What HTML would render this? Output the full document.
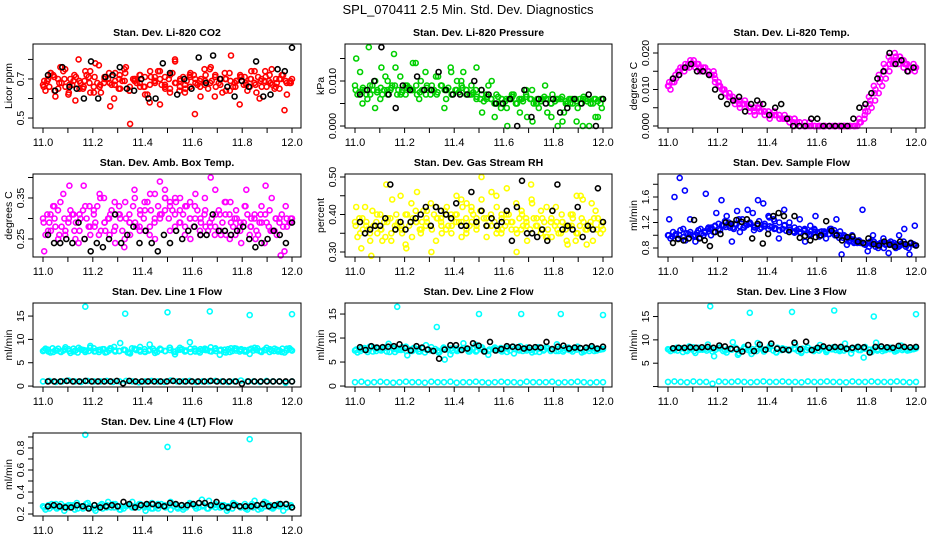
<!DOCTYPE html>
<html><head><meta charset="utf-8"><style>
html,body{margin:0;padding:0;background:#fff;}
svg{display:block;font-family:"Liberation Sans",sans-serif;}
</style></head><body>
<svg id="chart" width="936" height="540" viewBox="0 0 936 540">
<rect width="936" height="540" fill="#fff"/>
<text x="468" y="14" text-anchor="middle" font-size="13">SPL_070411  2.5 Min. Std. Dev. Diagnostics</text>
</svg>
<script>
// ---------- DATA ----------
const xTicks = [11.0,11.1,11.2,11.3,11.4,11.5,11.6,11.7,11.8,11.9,12.0];
const xTickLabels = ["11.0","","11.2","","11.4","","11.6","","11.8","","12.0"];

const co2A = [0.67,0.70,0.72,0.65,0.74,0.62,0.69,0.80,0.66,0.71,0.63,0.77,0.68,0.73,0.60,0.70,0.75,0.64,0.69,0.72,0.66,0.58,0.71,0.74,0.67,0.63,0.79,0.70,0.65,0.73,0.68,0.61,0.72,0.76,0.66,0.70,0.64,0.82,0.69,0.71,0.67,0.74,0.63,0.70,0.66,0.75,0.68,0.72,0.62,0.70];
const co2B = [0.64,0.73,0.61,0.76,0.66,0.70,0.59,0.68,0.74,0.63,0.78,0.67,0.71,0.56,0.69,0.65,0.73,0.47,0.70,0.66,0.62,0.74,0.68,0.57,0.71,0.65,0.80,0.66,0.63,0.72,0.52,0.69,0.67,0.75,0.61,0.70,0.73,0.64,0.68,0.57,0.71,0.66,0.74,0.60,0.69,0.72,0.65,0.70,0.54,0.68];
const co2C = [0.69,0.66,0.71,0.68,0.70,0.67,0.72,0.65,0.69,0.68,0.71,0.66,0.70,0.68,0.67,0.72,0.69,0.66,0.70,0.68,0.71,0.67,0.69,0.70,0.66,0.72,0.68,0.69,0.67,0.71,0.70,0.66,0.69,0.68,0.72,0.67,0.70,0.69,0.66,0.71,0.68,0.70,0.67,0.69,0.71,0.68,0.66,0.70,0.69,0.68];
const co2D = [0.66,0.69,0.73,0.64,0.70,0.68,0.75,0.63,0.67,0.71,0.69,0.65,0.72,0.74,0.66,0.68,0.63,0.71,0.70,0.67,0.73,0.65,0.69,0.76,0.64,0.70,0.68,0.72,0.66,0.62,0.71,0.69,0.74,0.67,0.65,0.70,0.73,0.68,0.64,0.71,0.69,0.66,0.72,0.67,0.70,0.75,0.65,0.69,0.71,0.68,0.63,0.70,0.73,0.66,0.69,0.72,0.67,0.64,0.70,0.68,0.71,0.66,0.74,0.69,0.67,0.70,0.65,0.72,0.68,0.69];
const co2K = [0.72,0.64,0.76,0.66,0.65,0.60,0.79,0.60,0.71,0.72,0.76,0.65,0.64,0.70,0.60,0.60,0.78,0.73,0.62,0.70,0.65,0.81,0.68,0.82,0.70,0.66,0.61,0.69,0.66,0.79,0.61,0.62,0.75,0.74,0.86];

const presA = [0.009,0.012,0.008,0.007,0.010,0.006,0.011,0.008,0.013,0.007,0.009,0.008,0.014,0.010,0.007,0.008,0.011,0.009,0.006,0.012,0.008,0.010,0.007,0.009,0.013,0.008,0.007,0.010,0.005,0.006,0.004,0.007,0.005,0.006,0.002,0.008,0.005,0.006,0.003,0.007,0.006,0.001,0.005,0.006,0.004,0.000,0.006,0.005,0.002,0.006];
const presB = [0.007,0.008,0.006,0.009,0.008,0.007,0.008,0.009,0.007,0.008,0.009,0.008,0.007,0.008,0.009,0.008,0.007,0.009,0.008,0.007,0.008,0.009,0.008,0.007,0.006,0.007,0.006,0.006,0.007,0.005,0.006,0.006,0.005,0.006,0.007,0.006,0.005,0.006,0.006,0.005,0.006,0.006,0.005,0.006,0.006,0.005,0.006,0.005,0.006,0.005];
const presC = [0.015,0.005,0.0175,0.004,0.013,0.010,0.016,0.011,0.0085,0.014,0.006,0.012,0.009,0.011,0.004,0.013,0.010,0.012,0.007,0.008,0.003,0.009,0.002,0.004,0.000,0.007,0.003,0.008,0.001,0.004,0.009,0.002,0.000,0.003,0.005,0.001,0.006,0.000,0.002,0.004];
const presD = [0.008,0.0075,0.0085,0.007,0.009,0.008,0.0075,0.0085,0.008,0.007,0.0085,0.009,0.008,0.0075,0.007,0.0085,0.008,0.009,0.0075,0.008,0.0085,0.007,0.008,0.0075,0.009,0.008,0.0085,0.007,0.008,0.0075,0.0085,0.008,0.007,0.0075,0.0065,0.006,0.0055,0.0065,0.006,0.005,0.0065,0.006,0.0055,0.006,0.0065,0.005,0.006,0.0055,0.0065,0.006,0.005,0.006,0.0055,0.0065,0.006,0.005,0.0055,0.006,0.0065,0.0055,0.006,0.005,0.0055,0.006,0.0065,0.0055,0.005,0.006,0.0055,0.006];
const presK = [0.007,0.008,0.010,0.0175,0.007,0.004,0.009,0.008,0.011,0.008,0.008,0.012,0.008,0.007,0.007,0.007,0.010,0.008,0.007,0.005,0.005,0.006,0.000,0.008,0.002,0.006,0.005,0.006,0.003,0.004,0.006,0.005,0.007,0.000,0.006];

const tempA = [0.011,0.013,0.015,0.016,0.017,0.017,0.017,0.016,0.015,0.015,0.012,0.010,0.008,0.007,0.007,0.006,0.005,0.004,0.005,0.004,0.003,0.004,0.003,0.002,0.002,0.002,0.001,0.001,0.001,0.000,0.000,0.000,0.000,0.000,0.000,0.000,0.000,0.000,0.001,0.004,0.007,0.010,0.013,0.016,0.018,0.019,0.018,0.017,0.016,0.016];
const tempB = [0.010,0.014,0.016,0.017,0.018,0.016,0.015,0.016,0.014,0.013,0.011,0.009,0.008,0.006,0.005,0.007,0.004,0.003,0.006,0.003,0.002,0.003,0.002,0.003,0.001,0.002,0.000,0.000,0.001,0.000,0.000,0.000,0.000,0.000,0.000,0.000,0.000,0.000,0.002,0.005,0.008,0.011,0.014,0.017,0.019,0.018,0.017,0.016,0.015,0.017];
const tempC = [0.012,0.012,0.014,0.015,0.016,0.017,0.016,0.015,0.014,0.014,0.011,0.010,0.009,0.007,0.006,0.006,0.005,0.005,0.004,0.004,0.003,0.003,0.002,0.002,0.001,0.000,0.001,0.000,0.000,0.000,0.000,0.000,0.000,0.000,0.000,0.000,0.000,0.000,0.001,0.003,0.006,0.009,0.012,0.015,0.017,0.020,0.019,0.017,0.016,0.015];
const tempD = [0.011,0.012,0.013,0.015,0.016,0.016,0.017,0.018,0.017,0.016,0.015,0.015,0.014,0.012,0.011,0.010,0.009,0.008,0.008,0.007,0.007,0.006,0.006,0.005,0.005,0.005,0.004,0.004,0.004,0.003,0.003,0.003,0.002,0.002,0.002,0.001,0.001,0.000,0.000,0.000,0.000,0.000,0.000,0.000,0.000,0.000,0.000,0.000,0.000,0.000,0.000,0.000,0.000,0.000,0.001,0.002,0.004,0.005,0.007,0.009,0.011,0.013,0.015,0.017,0.018,0.019,0.018,0.017,0.016,0.016];
const tempK = [0.013,0.014,0.016,0.017,0.015,0.015,0.014,0.010,0.008,0.006,0.007,0.008,0.004,0.006,0.007,0.006,0.003,0.005,0.006,0.002,0.000,0.000,0.000,0.002,0.002,0.000,0.000,0.000,0.000,0.000,0.002,0.005,0.006,0.009,0.013,0.015,0.020,0.017,0.018,0.015,0.016];

const ambA = [0.30,0.27,0.33,0.25,0.36,0.29,0.31,0.24,0.38,0.28,0.32,0.26,0.35,0.30,0.27,0.33,0.23,0.31,0.37,0.28,0.34,0.26,0.30,0.39,0.32,0.27,0.35,0.29,0.33,0.25,0.36,0.30,0.28,0.40,0.31,0.26,0.34,0.29,0.32,0.24,0.37,0.30,0.27,0.33,0.29,0.35,0.26,0.31,0.28,0.30];
const ambB = [0.26,0.31,0.28,0.34,0.27,0.32,0.25,0.30,0.33,0.26,0.29,0.35,0.27,0.31,0.24,0.30,0.34,0.26,0.29,0.32,0.27,0.36,0.25,0.31,0.35,0.34,0.28,0.32,0.26,0.30,0.33,0.27,0.35,0.29,0.26,0.31,0.34,0.25,0.30,0.28,0.33,0.26,0.31,0.29,0.24,0.32,0.27,0.30,0.22,0.29];
const ambC = [0.22,0.29,0.33,0.26,0.30,0.38,0.27,0.31,0.25,0.33,0.28,0.36,0.29,0.26,0.34,0.31,0.25,0.29,0.35,0.27,0.32,0.28,0.36,0.30,0.37,0.33,0.31,0.35,0.28,0.34,0.30,0.26,0.32,0.28,0.37,0.27,0.31,0.34,0.26,0.29,0.33,0.28,0.25,0.31,0.38,0.27,0.30,0.21,0.33,0.30];
const ambD = [0.29,0.31,0.27,0.30,0.32,0.28,0.26,0.30,0.31,0.29,0.27,0.32,0.30,0.28,0.31,0.33,0.27,0.29,0.30,0.32,0.28,0.31,0.27,0.30,0.29,0.33,0.28,0.31,0.30,0.34,0.32,0.29,0.33,0.31,0.35,0.30,0.32,0.34,0.29,0.31,0.33,0.30,0.28,0.32,0.29,0.31,0.27,0.30,0.28,0.32,0.29,0.26,0.31,0.28,0.30,0.27,0.29,0.31,0.28,0.30,0.26,0.29,0.31,0.28,0.27,0.30,0.29,0.28,0.30,0.29];
const ambK = [0.26,0.24,0.24,0.25,0.24,0.29,0.25,0.22,0.24,0.23,0.25,0.31,0.24,0.26,0.28,0.24,0.27,0.24,0.22,0.26,0.24,0.27,0.25,0.27,0.28,0.26,0.26,0.31,0.27,0.27,0.26,0.27,0.28,0.25,0.23,0.24,0.25,0.27,0.26,0.24,0.29];

const rhA = [0.38,0.35,0.42,0.33,0.37,0.40,0.34,0.39,0.36,0.45,0.32,0.38,0.41,0.35,0.37,0.43,0.33,0.39,0.36,0.40,0.38,0.44,0.35,0.41,0.37,0.50,0.34,0.39,0.42,0.36,0.47,0.38,0.35,0.40,0.33,0.43,0.37,0.39,0.34,0.41,0.36,0.38,0.32,0.40,0.35,0.44,0.37,0.33,0.39,0.36];
const rhB = [0.34,0.39,0.36,0.41,0.35,0.33,0.38,0.44,0.37,0.35,0.40,0.34,0.46,0.38,0.41,0.36,0.39,0.35,0.42,0.37,0.40,0.34,0.43,0.38,0.36,0.41,0.39,0.37,0.45,0.35,0.40,0.38,0.43,0.36,0.39,0.48,0.37,0.41,0.34,0.38,0.42,0.35,0.37,0.40,0.33,0.45,0.36,0.38,0.41,0.35];
const rhC = [0.42,0.31,0.37,0.29,0.38,0.36,0.48,0.33,0.40,0.37,0.31,0.43,0.38,0.36,0.39,0.30,0.42,0.37,0.40,0.35,0.45,0.38,0.36,0.42,0.39,0.44,0.37,0.46,0.35,0.40,0.38,0.36,0.30,0.41,0.37,0.44,0.39,0.36,0.42,0.34,0.38,0.40,0.33,0.37,0.45,0.39,0.32,0.43,0.36,0.38];
const rhD = [0.37,0.39,0.36,0.38,0.35,0.37,0.40,0.36,0.38,0.39,0.35,0.37,0.38,0.36,0.40,0.37,0.39,0.38,0.36,0.41,0.38,0.37,0.40,0.39,0.38,0.41,0.37,0.39,0.40,0.38,0.42,0.39,0.37,0.40,0.38,0.41,0.39,0.37,0.40,0.38,0.36,0.39,0.37,0.40,0.38,0.36,0.39,0.37,0.38,0.36,0.39,0.37,0.35,0.38,0.36,0.39,0.37,0.35,0.38,0.36,0.37,0.39,0.35,0.37,0.38,0.36,0.37,0.39,0.36,0.37];
const rhK = [0.38,0.35,0.36,0.37,0.37,0.39,0.48,0.36,0.38,0.36,0.38,0.39,0.40,0.42,0.37,0.42,0.41,0.40,0.39,0.43,0.37,0.37,0.46,0.38,0.41,0.37,0.39,0.37,0.38,0.41,0.33,0.42,0.49,0.35,0.35,0.34,0.36,0.33,0.41,0.48,0.36,0.37,0.36,0.42,0.34,0.37,0.36,0.47,0.38];

const flowA = [1.00,1.05,0.95,1.10,1.02,0.98,1.08,1.00,1.12,1.05,1.18,1.15,1.20,1.10,1.25,1.12,1.18,1.08,1.22,1.15,1.28,1.10,1.20,1.15,1.08,1.12,1.05,1.10,1.00,1.08,1.05,1.02,1.10,1.00,1.06,0.98,0.95,0.92,0.88,0.85,0.90,0.82,0.88,0.85,0.90,0.80,0.86,0.82,0.88,0.84];
const flowB = [0.95,1.00,1.08,0.92,1.05,1.00,0.96,1.04,1.10,1.15,1.08,1.22,1.12,1.18,1.05,1.15,1.20,1.12,1.10,1.18,1.14,1.22,1.08,1.16,1.12,1.04,1.10,1.08,1.02,1.10,0.98,1.06,1.02,1.08,0.96,1.00,0.90,0.88,0.92,0.86,0.82,0.90,0.86,0.80,0.88,0.84,0.82,0.90,0.80,0.86];
const flowC = [1.25,1.60,1.90,1.70,1.25,0.90,1.10,1.65,1.00,1.35,1.55,1.30,0.90,1.38,1.25,1.40,1.35,1.55,1.50,1.30,1.25,0.95,1.40,1.20,1.05,1.25,0.90,1.15,1.30,1.00,0.95,1.10,1.25,0.70,0.85,1.00,0.90,1.40,0.75,1.00,0.80,0.95,0.72,0.88,1.00,1.10,0.70,1.15];
const flowD = [1.00,0.98,1.02,1.00,0.97,1.03,1.01,0.99,1.04,1.02,1.06,1.10,1.12,1.14,1.10,1.16,1.13,1.15,1.12,1.17,1.14,1.12,1.16,1.18,1.13,1.15,1.12,1.14,1.10,1.13,1.11,1.08,1.10,1.07,1.09,1.06,1.08,1.05,1.07,1.04,1.06,1.05,1.03,1.06,1.04,1.02,1.05,1.03,1.00,0.96,0.94,0.92,0.90,0.88,0.89,0.87,0.88,0.86,0.87,0.85,0.88,0.86,0.87,0.85,0.86,0.84,0.86,0.85,0.87,0.85];
const flowK = [0.88,0.94,0.92,0.95,1.24,0.95,0.92,0.83,1.05,1.02,1.20,1.18,1.24,1.21,1.25,0.95,1.18,0.87,1.02,1.30,1.35,1.30,1.05,1.30,0.96,0.99,0.92,0.97,1.00,1.22,1.07,1.00,0.92,0.97,0.98,0.90,0.88,0.95,0.86,0.84,0.90,0.85,0.82,0.90,0.86,0.88,0.84];

const l1High = [7.5,7.8,7.3,8.0,7.6,7.9,7.4,8.2,7.7,7.5,8.1,7.3,7.9,7.6,8.4,7.5,7.8,7.2,8.0,7.7,7.4,8.9,7.6,7.9,7.5,8.2,7.3,7.8,7.6,8.0,7.4,7.9,7.7,8.3,7.5,7.8,7.2,8.1,7.6,7.9,7.4,8.0,7.7,7.5,8.2,7.6,7.8,7.3,8.0,7.6];
const l1High2 = [8.0,7.2,7.7,7.4,8.3,7.1,7.6,7.9,7.3,8.6,7.5,7.8,7.2,8.1,7.4,9.2,7.7,7.0,7.9,8.4,7.3,7.8,7.1,8.0,7.5,7.7,6.8,8.2,7.4,9.4,7.6,7.2,8.0,7.5,7.9,6.7,7.8,7.3,8.1,7.4,7.7,6.9,8.2,7.5,7.8,7.3,8.0,7.6,7.2,8.1];
const l1High3 = [7.7,7.4,8.1,7.6,7.3,7.9,7.5,8.0,7.2,7.8,7.6,8.2,7.4,7.7,7.9,7.3,8.0,7.6,7.5,7.8,7.2,8.1,7.7,7.4,7.9,7.6,8.0,7.3,7.8,7.5,8.2,7.4,7.7,7.9,7.6,7.3,8.0,7.5,7.8,7.7,7.4,8.1,7.6,7.3,7.9,7.5,8.0,7.7,7.4,7.8,7.6,8.1,7.3,7.7,7.9,7.5,7.4,8.0,7.6,7.8];
const l1Low = [1.0,1.1,0.9,1.0,1.2,1.0,0.9,1.1,1.0,1.0,1.1,0.9,1.0,1.1,1.0,0.8,1.0,1.1,1.0,0.9,1.2,1.0,1.0,1.1,0.9,1.0,1.0,1.1,1.0,0.9,1.0,1.2,1.0,1.0,0.9,1.1,1.0,1.0,0.7,1.0];
const l1OutX = [11.17,11.33,11.50,11.67,11.83,12.00];
const l1OutY = [17.0,15.5,15.8,16.0,15.2,15.4];
const l1K = [1.0,1.0,1.0,1.1,1.0,1.0,1.1,1.0,1.0,1.0,1.0,1.1,0.6,1.1,1.0,1.0,1.0,1.0,1.0,1.0,1.1,1.0,1.0,1.0,1.0,1.0,1.1,1.0,1.0,1.0,1.0,0.5,1.0,1.0,1.0,1.0,1.0,1.0,1.0,1.0];

const l2High = [7.4,7.8,7.1,8.0,7.5,7.2,7.9,7.6,8.2,7.3,7.7,7.0,8.1,7.4,7.8,6.6,7.5,7.9,7.2,8.6,7.6,7.3,8.0,7.5,7.8,6.8,8.3,7.4,7.7,7.1,8.0,7.6,7.3,7.9,7.5,8.2,7.2,7.8,7.4,7.7];
const l2High2 = [7.0,7.6,8.2,7.3,7.7,8.8,7.1,7.5,6.4,7.9,7.2,8.5,7.4,7.0,5.5,7.8,7.3,8.9,7.6,7.2,8.0,6.5,7.5,7.9,7.1,8.2,7.4,7.7,7.0,8.1,7.6,7.3,8.7,7.2,7.5,7.9,7.0,7.8,7.3,7.6];
const l2High3 = [7.6,7.3,7.9,7.5,7.2,7.8,7.4,8.0,7.1,7.7,7.5,8.1,7.3,7.6,7.9,7.2,7.8,7.5,7.4,7.7,7.1,8.0,7.6,7.3,7.8,7.5,7.9,7.2,7.7,7.4,8.1,7.3,7.6,7.8,7.5,7.2,7.9,7.4,7.7,7.6,7.3,8.0,7.5,7.2,7.8,7.4,7.9,7.6,7.3,7.7,7.5,8.0,7.2,7.6,7.8,7.4,7.3,7.9,7.5,7.7];
const l2Low = [0.8,0.9,0.7,0.8,0.9,0.8,0.7,0.8,0.9,0.8,0.8,0.7,0.9,0.8,0.8,0.9,0.7,0.8,0.8,0.9,0.8,0.7,0.8,0.9,0.8,0.8,0.7,0.9,0.8,0.8,0.8,0.9,0.7,0.8,0.8,0.9,0.8,0.7,0.8,0.8];
const l2OutX = [11.17,11.33,11.50,11.67,11.83,12.00];
const l2OutY = [16.5,12.3,15.0,15.0,15.0,14.8];
const l2K = [8.1,7.5,8.3,8.0,8.1,8.2,8.3,8.7,7.9,7.4,8.3,8.0,7.6,7.3,5.7,7.6,8.5,8.5,7.5,7.8,8.9,8.4,7.2,9.2,7.4,7.7,8.3,8.2,8.1,7.8,8.0,8.1,8.0,9.2,7.7,8.2,8.4,7.8,8.0,7.9,8.0,8.3,7.8,8.2];

const l3High = [8.0,7.8,8.2,7.6,8.4,7.9,8.1,7.5,8.3,7.7,8.0,6.8,8.5,7.6,8.1,7.9,8.6,7.4,8.2,7.8,8.0,7.5,8.3,7.9,8.1,7.7,8.4,7.6,8.0,8.2,7.8,8.5,7.4,8.0,7.9,8.3,7.7,8.1,7.8,8.2];
const l3High2 = [7.6,8.3,7.4,8.6,7.2,8.0,9.0,6.5,8.4,7.3,9.5,7.1,8.2,7.0,9.3,7.5,8.8,7.3,8.1,7.7,9.0,7.2,8.4,7.6,8.9,7.4,8.0,7.8,9.2,7.1,8.5,6.2,7.9,9.4,7.6,8.3,7.5,8.8,7.7,8.0];
const l3High3 = [7.9,8.1,7.7,8.2,7.8,8.0,7.6,8.3,7.9,7.7,8.1,7.8,8.2,7.6,8.0,7.9,8.3,7.7,8.1,7.8,8.0,7.6,8.2,7.9,8.1,7.7,8.3,7.8,8.0,7.9,8.2,7.6,8.1,7.8,7.9,8.0,7.7,8.2,7.9,8.0,7.8,8.1,7.7,8.0,7.9,8.2,7.8,8.1,7.9,8.0,7.7,8.1,7.8,8.0,7.9,8.2,7.8,8.0,7.9,8.1];
const l3Low = [1.0,1.1,1.0,0.9,1.1,1.0,1.0,0.6,1.1,1.0,1.0,1.1,1.0,0.9,1.0,1.1,1.0,1.0,1.1,1.0,1.0,0.9,1.1,1.0,1.0,1.1,1.0,1.0,0.9,1.1,1.0,1.0,1.1,1.0,1.0,1.0,1.1,1.0,0.9,1.0];
const l3OutX = [11.17,11.33,11.50,11.67,11.83,12.00];
const l3OutY = [17.2,15.8,16.0,16.3,15.0,15.5];
const l3K = [8.2,8.3,8.3,8.4,8.3,8.4,8.5,8.3,8.8,8.6,8.1,8.0,7.5,8.9,7.6,9.0,7.9,9.2,8.1,7.9,7.8,9.4,8.0,9.6,7.8,8.3,8.6,8.3,8.5,8.5,8.1,8.3,8.5,8.4,7.3,8.5,8.6,8.4,8.3,8.7,8.5,8.4,8.5];

const l4A = [0.27,0.25,0.29,0.26,0.28,0.24,0.27,0.30,0.25,0.28,0.26,0.29,0.24,0.27,0.31,0.26,0.28,0.25,0.29,0.27,0.24,0.28,0.26,0.30,0.25,0.27,0.32,0.26,0.28,0.25,0.29,0.27,0.24,0.28,0.26,0.30,0.25,0.27,0.29,0.26];
const l4B = [0.24,0.29,0.26,0.23,0.28,0.30,0.25,0.27,0.23,0.29,0.31,0.26,0.24,0.28,0.26,0.29,0.23,0.30,0.25,0.28,0.31,0.26,0.24,0.29,0.27,0.33,0.25,0.28,0.26,0.23,0.30,0.27,0.25,0.29,0.24,0.31,0.26,0.28,0.23,0.27];
const l4C = [0.26,0.28,0.27,0.25,0.29,0.27,0.26,0.28,0.25,0.27,0.29,0.26,0.28,0.27,0.25,0.28,0.26,0.29,0.27,0.25,0.28,0.26,0.27,0.29,0.26,0.28,0.25,0.27,0.29,0.26,0.28,0.27,0.25,0.28,0.26,0.29,0.27,0.26,0.28,0.25,0.27,0.29,0.26,0.28,0.27,0.25,0.28,0.26,0.29,0.27,0.26,0.28,0.25,0.27,0.28,0.26,0.29,0.27,0.26,0.28];
const l4OutX = [11.17,11.50,11.83,11.85];
const l4OutY = [0.92,0.81,0.88,0.32];
const l4K = [0.27,0.28,0.27,0.26,0.26,0.28,0.27,0.25,0.28,0.26,0.27,0.28,0.27,0.31,0.29,0.26,0.28,0.29,0.29,0.28,0.27,0.30,0.29,0.28,0.28,0.29,0.30,0.30,0.28,0.31,0.27,0.26,0.28,0.27,0.27,0.27,0.28,0.29,0.27,0.28,0.29,0.29,0.26];

// ---------- LAYOUT ----------
const NS = "http://www.w3.org/2000/svg";
const svg = document.getElementById("chart");
function el(tag, attrs, parent){ const e=document.createElementNS(NS,tag); for(const k in attrs) e.setAttribute(k,attrs[k]); (parent||svg).appendChild(e); return e; }

const colsX = [[33,301],[345,612],[658,925]];
const rowsY = [[44,128],[174,257],[303,387],[433,516]];

function panel(opt){
  const [L,R] = colsX[opt.col], [T,B] = rowsY[opt.row];
  const g = el("g",{});
  
  
  const xs = v => (L+10) + (v-11)*(R-L-19);
  const ys = v => B - (v-opt.ymin)/(opt.ymax-opt.ymin)*(B-T);
  opt.series.forEach(s=>{
    const sg = el("g",{fill:"none",stroke:s.color,"stroke-width":1.6},g);
    
    
    s.vals.forEach((v,i)=>{
      const xv = s.xs ? s.xs[i] : 11 + i/(s.vals.length-1)*(s.span||1) + (s.off||0);
      const c = el("circle",{cx:xs(xv).toFixed(1),cy:ys(v).toFixed(1),r:2.5},sg);
      
      
    });
  });
  const box = el("rect",{x:L,y:T,width:R-L,height:B-T,fill:"none",stroke:"#000","stroke-width":1},g);
  
  
  xTicks.forEach((t,i)=>{
    const x = xs(t);
    el("line",{x1:x,x2:x,y1:B,y2:B+5,stroke:"#000"},g);
    if(xTickLabels[i]){
      const tx = el("text",{x:x,y:B+18,"text-anchor":"middle","font-size":11},g);
      tx.textContent = xTickLabels[i];
      
      
    }
  });
  opt.yTicks.forEach((t,i)=>{
    const y = ys(t);
    el("line",{x1:L-5,x2:L,y1:y,y2:y,stroke:"#000"},g);
    if(opt.yLabels[i]){
      const tx = el("text",{x:0,y:0,"text-anchor":"middle","font-size":10.5,transform:`translate(${L-9},${y}) rotate(-90)`},g);
      tx.textContent = opt.yLabels[i];
      
      
    }
  });
  const yt = el("text",{x:0,y:0,"text-anchor":"middle","font-size":10.5,transform:`translate(${L-21},${(T+B)/2}) rotate(-90)`},g);
  yt.textContent = opt.ytitle;
  
  
  const tt = el("text",{x:(L+R)/2,y:T-8,"text-anchor":"middle","font-size":10.5,"font-weight":"bold"},g);
  tt.textContent = opt.title;
  
  
}

const K = "#000";
panel({name:"co2-panel",col:0,row:0,title:"Stan. Dev. Li-820 CO2",ytitle:"Licor ppm",ymin:0.449,ymax:0.879,
  yTicks:[0.5,0.6,0.7,0.8],yLabels:["0.5","","0.7",""],
  series:[{name:"co2-red-a",color:"#f00",vals:co2A},{name:"co2-red-b",color:"#f00",vals:co2B,off:0.01,span:0.98},{name:"co2-red-c",color:"#f00",vals:co2C,off:0.005,span:0.99},{name:"co2-red-d",color:"#f00",vals:co2D,off:0.003,span:0.99},{name:"co2-black",color:K,vals:co2K,off:0.02,span:0.98}]});
panel({name:"pressure-panel",col:1,row:0,title:"Stan. Dev. Li-820 Pressure",ytitle:"kPa",ymin:-0.00044,ymax:0.01822,
  yTicks:[0,0.005,0.010,0.015],yLabels:["0.000","","0.010",""],
  series:[{name:"pressure-green-a",color:"#00d000",vals:presA},{name:"pressure-green-b",color:"#00d000",vals:presB,off:0.01,span:0.98},{name:"pressure-green-c",color:"#00d000",vals:presC,off:0.005,span:0.99},{name:"pressure-green-d",color:"#00d000",vals:presD,off:0.003,span:0.99},{name:"pressure-black",color:K,vals:presK,off:0.02,span:0.98}]});
panel({name:"licor-temp-panel",col:2,row:0,title:"Stan. Dev. Li-820 Temp.",ytitle:"degrees C",ymin:-0.00055,ymax:0.02247,
  yTicks:[0,0.005,0.010,0.015,0.020],yLabels:["0.000","","0.010","","0.020"],
  series:[{name:"temp-magenta-a",color:"#f0f",vals:tempA},{name:"temp-magenta-b",color:"#f0f",vals:tempB,off:0.01,span:0.98},{name:"temp-magenta-c",color:"#f0f",vals:tempC,off:0.005,span:0.99},{name:"temp-magenta-d",color:"#f0f",vals:tempD,off:0.003,span:0.99},{name:"temp-black",color:K,vals:tempK,off:0.02,span:0.97}]});
panel({name:"amb-box-temp-panel",col:0,row:1,title:"Stan. Dev. Amb. Box Temp.",ytitle:"degrees C",ymin:0.206,ymax:0.4085,
  yTicks:[0.25,0.30,0.35,0.40],yLabels:["0.25","","0.35",""],
  series:[{name:"amb-magenta-a",color:"#f0f",vals:ambA},{name:"amb-magenta-b",color:"#f0f",vals:ambB,off:0.01,span:0.98},{name:"amb-magenta-c",color:"#f0f",vals:ambC,off:0.005,span:0.99},{name:"amb-magenta-d",color:"#f0f",vals:ambD,off:0.003,span:0.99},{name:"amb-black",color:K,vals:ambK,off:0.02,span:0.98}]});
panel({name:"rh-panel",col:1,row:1,title:"Stan. Dev. Gas Stream RH",ytitle:"percent",ymin:0.2867,ymax:0.508,
  yTicks:[0.30,0.35,0.40,0.45,0.50],yLabels:["0.30","","0.40","","0.50"],
  series:[{name:"rh-yellow-a",color:"#ff0",vals:rhA},{name:"rh-yellow-b",color:"#ff0",vals:rhB,off:0.01,span:0.98},{name:"rh-yellow-c",color:"#ff0",vals:rhC,off:0.005,span:0.99},{name:"rh-yellow-d",color:"#ff0",vals:rhD,off:0.003,span:0.99},{name:"rh-black",color:K,vals:rhK,off:0.02,span:0.98}]});
panel({name:"sample-flow-panel",col:2,row:1,title:"Stan. Dev. Sample Flow",ytitle:"ml/min",ymin:0.659,ymax:1.961,
  yTicks:[0.8,1.0,1.2,1.4,1.6,1.8],yLabels:["0.8","","1.2","","1.6",""],
  series:[{name:"flow-blue-a",color:"#00f",vals:flowA},{name:"flow-blue-b",color:"#00f",vals:flowB,off:0.01,span:0.98},{name:"flow-blue-c",color:"#00f",vals:flowC,off:0.005,span:0.99},{name:"flow-blue-d",color:"#00f",vals:flowD,off:0.003,span:0.99},{name:"flow-black",color:K,vals:flowK,off:0.02,span:0.98}]});
panel({name:"line1-flow-panel",col:0,row:2,title:"Stan. Dev. Line 1 Flow",ytitle:"ml/min",ymin:-0.2,ymax:17.8,
  yTicks:[0,5,10,15],yLabels:["0","5","10","15"],
  series:[{name:"line1-cyan-high-a",color:"#0ff",vals:l1High},{name:"line1-cyan-high-b",color:"#0ff",vals:l1High2,off:0.01,span:0.98},{name:"line1-cyan-high-c",color:"#0ff",vals:l1High3,off:0.005,span:0.99},{name:"line1-cyan-low",color:"#0ff",vals:l1Low},{name:"line1-cyan-outliers",color:"#0ff",vals:l1OutY,xs:l1OutX},{name:"line1-black",color:K,vals:l1K,off:0.02,span:0.98}]});
panel({name:"line2-flow-panel",col:1,row:2,title:"Stan. Dev. Line 2 Flow",ytitle:"ml/min",ymin:-0.2,ymax:17.3,
  yTicks:[0,5,10,15],yLabels:["0","5","10","15"],
  series:[{name:"line2-cyan-high-a",color:"#0ff",vals:l2High},{name:"line2-cyan-high-b",color:"#0ff",vals:l2High2,off:0.01,span:0.98},{name:"line2-cyan-high-c",color:"#0ff",vals:l2High3,off:0.005,span:0.99},{name:"line2-cyan-low",color:"#0ff",vals:l2Low},{name:"line2-cyan-outliers",color:"#0ff",vals:l2OutY,xs:l2OutX},{name:"line2-black",color:K,vals:l2K,off:0.02,span:0.98}]});
panel({name:"line3-flow-panel",col:2,row:2,title:"Stan. Dev. Line 3 Flow",ytitle:"ml/min",ymin:-0.1,ymax:17.9,
  yTicks:[0,5,10,15],yLabels:["","5","10","15"],
  series:[{name:"line3-cyan-high-a",color:"#0ff",vals:l3High},{name:"line3-cyan-high-b",color:"#0ff",vals:l3High2,off:0.01,span:0.98},{name:"line3-cyan-high-c",color:"#0ff",vals:l3High3,off:0.005,span:0.99},{name:"line3-cyan-low",color:"#0ff",vals:l3Low},{name:"line3-cyan-outliers",color:"#0ff",vals:l3OutY,xs:l3OutX},{name:"line3-black",color:K,vals:l3K,off:0.02,span:0.98}]});
panel({name:"line4-flow-panel",col:0,row:3,title:"Stan. Dev. Line 4 (LT) Flow",ytitle:"ml/min",ymin:0.182,ymax:0.936,
  yTicks:[0.2,0.3,0.4,0.5,0.6,0.7,0.8,0.9],yLabels:["0.2","","0.4","","0.6","","0.8",""],
  series:[{name:"line4-cyan-a",color:"#0ff",vals:l4A},{name:"line4-cyan-b",color:"#0ff",vals:l4B,off:0.01,span:0.98},{name:"line4-cyan-c",color:"#0ff",vals:l4C,off:0.005,span:0.99},{name:"line4-cyan-outliers",color:"#0ff",vals:l4OutY,xs:l4OutX},{name:"line4-black",color:K,vals:l4K,off:0.02,span:0.98}]});
</script>
</body></html>
